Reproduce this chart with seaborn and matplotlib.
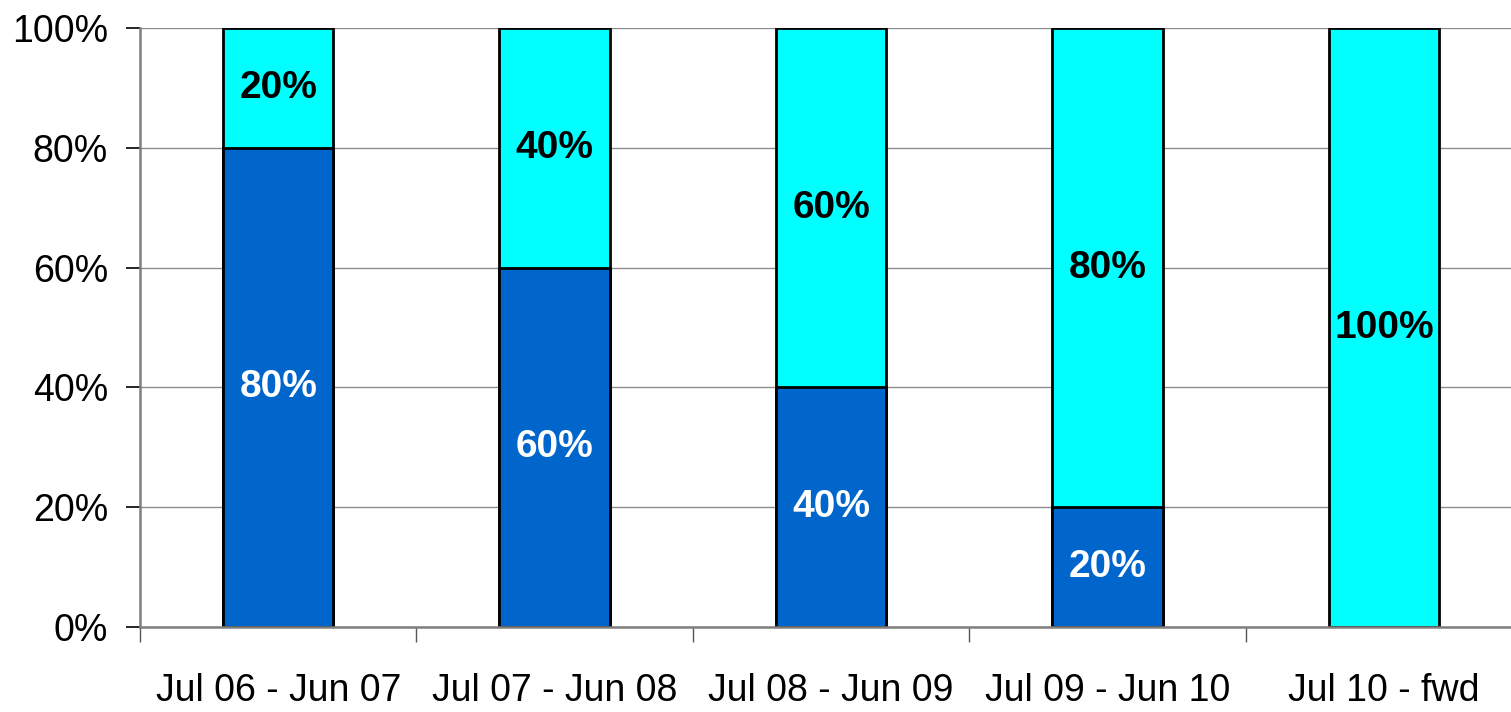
import numpy as np
import pandas as pd
import matplotlib
matplotlib.use("Agg")
import matplotlib.pyplot as plt
import seaborn as sns

periods = ["Jul 06 - Jun 07", "Jul 07 - Jun 08", "Jul 08 - Jun 09",
           "Jul 09 - Jun 10", "Jul 10 - fwd"]
dark_share = [80, 60, 40, 20, 0]
light_share = [20, 40, 60, 80, 100]

DARK = "#0066CC"
LIGHT = "#00FFFF"

sns.set_theme(style="white")
plt.rcParams['font.family'] = ['Liberation Sans', 'DejaVu Sans']
plt.rcParams['text.color'] = 'black'
plt.rcParams['xtick.color'] = 'black'
plt.rcParams['ytick.color'] = 'black'

df = pd.DataFrame({"period": periods, "dark": dark_share, "light": light_share})
df["total"] = df["dark"] + df["light"]

fig = plt.figure(figsize=(15.11, 7.12), dpi=100)
ax = fig.add_axes([140 / 1511, 85 / 712, 1 - 140 / 1511, 599 / 712])

# stacked: full height first, dark part on top of it
sns.barplot(data=df, x="period", y="total", color=LIGHT, saturation=1,
            width=0.4, edgecolor="black", linewidth=2.0, ax=ax, zorder=3)
sns.barplot(data=df, x="period", y="dark", color=DARK, saturation=1,
            width=0.4, edgecolor="black", linewidth=2.0, ax=ax, zorder=3)

for i, row in df.iterrows():
    if row["dark"] > 0:
        ax.text(i, row["dark"] / 2, f"{row['dark']}%", ha="center", va="center",
                color="white", fontsize=28, fontweight="bold", zorder=4)
    if row["light"] > 0:
        ax.text(i, row["dark"] + row["light"] / 2, f"{row['light']}%",
                ha="center", va="center", color="black", fontsize=28,
                fontweight="bold", zorder=4)

ax.set_yticks(np.arange(0, 101, 20))
ax.set_yticklabels([f"{v}%" for v in range(0, 101, 20)])
ax.yaxis.grid(True, color="#8c8c8c", linewidth=1.0, zorder=0)
ax.set_axisbelow(True)
ax.set_xlabel("")
ax.set_ylabel("")

# category boundary ticks on x
ax.set_xticks(np.arange(-0.5, 4.6, 1.0), minor=True)
ax.tick_params(axis="x", which="minor", length=11, width=1.0, color="#555555",
               direction="out", bottom=True)
ax.tick_params(axis="x", which="major", length=0, pad=33, labelsize=27)
ax.tick_params(axis="y", which="major", length=10, width=1.2, color="black",
               direction="out", left=True, pad=13, labelsize=27)

ax.set_ylim(0, 100)
ax.set_xlim(-0.5, 4.46)

for side in ["top", "right"]:
    ax.spines[side].set_visible(False)
for side in ["left", "bottom"]:
    ax.spines[side].set_color("#7f7f7f")
    ax.spines[side].set_linewidth(1.8)
    ax.spines[side].set_zorder(5)

fig.savefig("out.png", dpi=100)
